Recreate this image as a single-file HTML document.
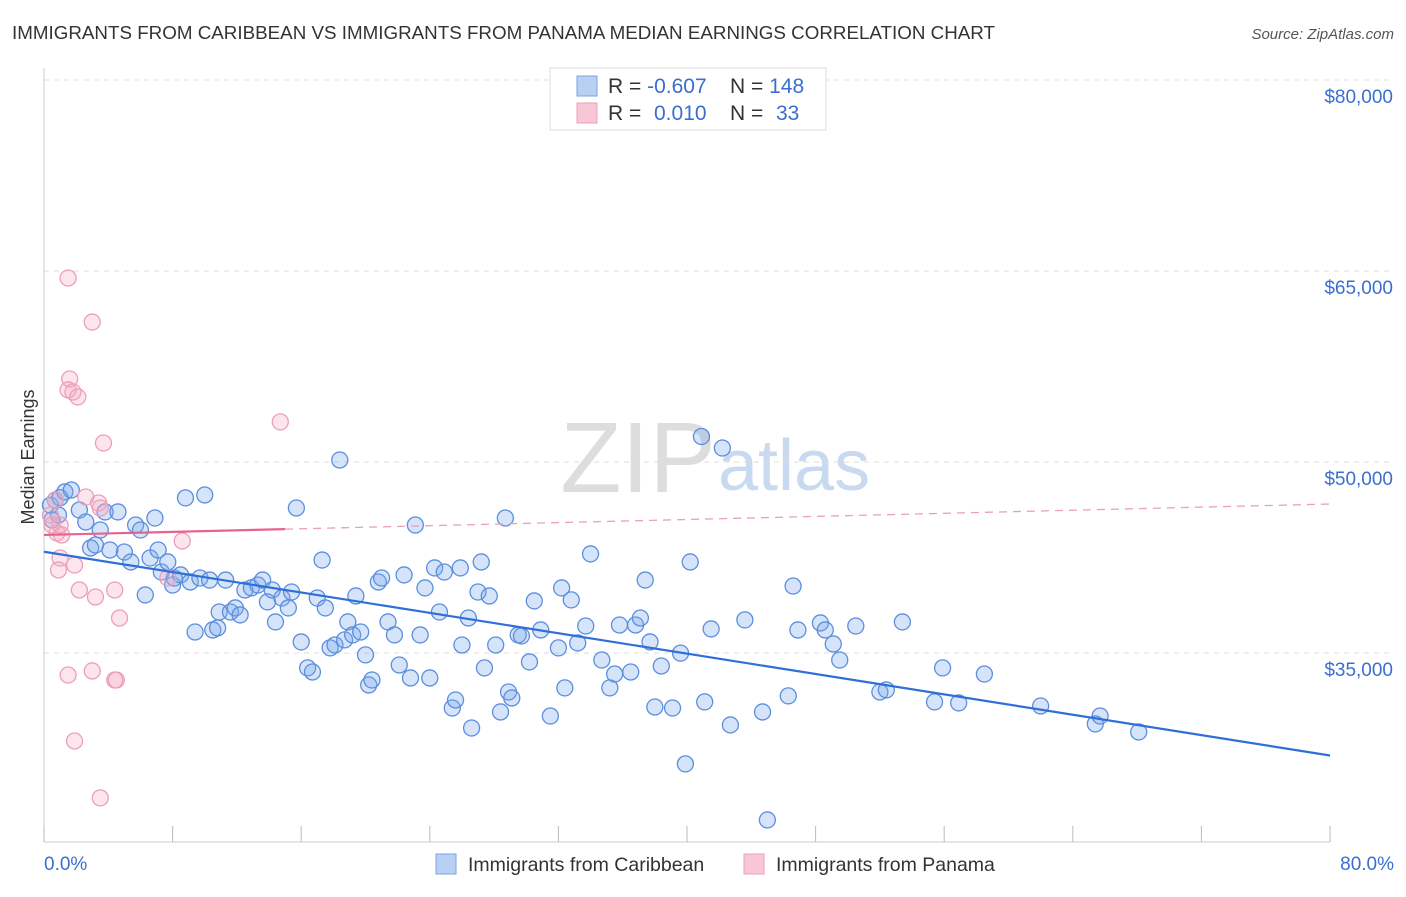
<!DOCTYPE html>
<html><head><meta charset="utf-8"><style>
body{margin:0;background:#fff;font-family:"Liberation Sans",sans-serif;}
svg text{font-family:"Liberation Sans",sans-serif;}
</style></head><body>
<svg id="chart" width="1406" height="892" xmlns="http://www.w3.org/2000/svg">
<text x="12" y="39" font-size="18" fill="#333" textLength="983" lengthAdjust="spacingAndGlyphs">IMMIGRANTS FROM CARIBBEAN VS IMMIGRANTS FROM PANAMA MEDIAN EARNINGS CORRELATION CHART</text>
<text x="1394" y="39" font-size="15" fill="#555" font-style="italic" text-anchor="end">Source: ZipAtlas.com</text>
<text x="716" y="492" font-size="100" fill="#ddd" text-anchor="end" font-family="Liberation Serif">ZIP</text>
<text x="718" y="490" font-size="72" fill="#c9daf0">atlas</text>
<g id="grid"></g>
<g id="axes"></g>
<g id="marks"></g>
<text x="34" y="457" font-size="18" fill="#333" text-anchor="middle" transform="rotate(-90 34 457)">Median Earnings</text>
<g>
<rect x="550" y="68" width="276" height="62" fill="#fff" stroke="#ddd"/>
<rect x="577" y="76" width="20" height="20" fill="#b8d0f4" stroke="#7aa3e0"/>
<rect x="577" y="103" width="20" height="20" fill="#f8c6d6" stroke="#eaa0b8"/>
<text x="608" y="93" font-size="21" fill="#333">R = <tspan fill="#3a6fd0">-0.607</tspan></text>
<text x="730" y="93" font-size="21" fill="#333">N = <tspan fill="#3a6fd0">148</tspan></text>
<text x="608" y="120" font-size="21" fill="#333">R = <tspan fill="#3a6fd0" x="654">0.010</tspan></text>
<text x="730" y="120" font-size="21" fill="#333">N = <tspan fill="#3a6fd0" x="776">33</tspan></text>
</g>
<g>
<rect x="436" y="854" width="20" height="20" fill="#b8d0f4" stroke="#7aa3e0"/>
<text x="468" y="871" font-size="19.5" fill="#333">Immigrants from Caribbean</text>
<rect x="744" y="854" width="20" height="20" fill="#f8c6d6" stroke="#eaa0b8"/>
<text x="776" y="871" font-size="19.5" fill="#333">Immigrants from Panama</text>
</g>
</svg>
<script>
const yTicks=[35000,50000,65000,80000];
const yTickLabels=["$35,000","$50,000","$65,000","$80,000"];
const xTickLabels=["0.0%","80.0%"];
const blueX=[0.4,0.7,1.0,1.3,1.7,0.9,0.5,2.2,2.6,2.9,3.2,3.5,3.8,4.1,4.6,5.0,5.4,5.7,6.0,6.3,6.6,6.9,7.1,7.3,7.7,8.0,8.1,8.5,8.8,9.1,9.4,9.7,10.0,10.3,10.5,10.8,10.9,11.3,11.6,11.9,12.2,12.5,12.9,13.3,13.6,13.9,14.2,14.4,14.8,15.2,15.4,15.7,16.0,16.4,16.7,17.0,17.3,17.5,17.8,18.1,18.4,18.7,18.9,19.2,19.4,19.7,20.0,20.2,20.4,20.8,21.0,21.4,21.8,22.1,22.4,22.8,23.1,23.4,23.7,24.0,24.3,24.6,24.9,25.4,25.6,25.9,26.0,26.4,26.6,27.0,27.2,27.4,27.7,28.1,28.4,28.7,28.9,29.1,29.5,29.7,30.2,30.5,30.9,31.5,32.0,32.2,32.4,32.8,33.2,33.7,34.0,34.7,35.2,35.5,35.8,36.5,36.8,37.1,37.4,37.7,38.0,38.4,39.1,39.6,39.9,40.2,40.9,41.1,41.5,42.2,42.7,43.6,44.7,45.0,46.3,46.6,46.9,48.3,48.6,49.1,49.5,50.5,52.0,52.4,53.4,55.4,55.9,56.9,58.5,62.0,65.4,65.7,68.1];
const blueY=[46600,47000,47200,47650,47800,45840,45450,46230,45290,43250,43480,44660,46080,43090,46080,42930,42150,45050,44660,39560,42460,45600,43090,41360,42150,40340,40890,41130,47180,40580,36650,40890,47410,40730,36810,36970,38220,40730,38220,38540,37990,39950,40110,40340,40730,39010,39950,37440,39320,38540,39790,46390,35870,33830,33510,39320,42300,38540,35400,35630,50160,36030,37440,36420,39480,36650,34850,32490,32880,40580,40890,37440,36420,34060,41130,33040,45050,36420,40110,33040,41680,38220,41360,30680,31310,41680,35630,37750,29110,39790,42150,33830,39480,35630,30370,45600,31940,31470,36420,36340,34300,39090,36810,30050,35400,40110,32260,39170,35790,37120,42780,34450,32260,33350,37200,33510,37200,37750,40730,35870,30760,33980,30680,34990,26290,42150,52000,31160,36890,51100,29350,37600,30370,21890,31630,40260,36810,37360,36810,35710,34450,37120,31940,32100,37440,31160,33830,31080,33350,30840,29430,30050,28800];
const pinkX=[1.5,3.0,1.6,1.5,1.8,2.1,3.7,14.7,0.7,2.6,3.4,0.4,0.8,0.5,1.1,1.0,1.0,1.9,0.9,2.2,3.2,4.4,4.7,8.6,7.7,1.5,3.0,4.4,4.5,1.9,3.5,3.5];
const pinkY=[64450,60990,56520,55660,55500,55110,51490,53150,47020,47250,46780,45840,44430,45050,44270,45050,42460,41910,41520,39950,39400,39950,37750,43800,40890,33270,33590,32880,32880,28090,23620,46390];
const blueTrend=[42950,26950];
const pinkTrend=[44270,46700];
const pinkSolidEnd=15;

const X0=44,X1=1330,Y80=80;
const xs=v=>X0+(X1-X0)*v/80;
const ys=v=>Y80+(80000-v)*191/15000;
const NS="http://www.w3.org/2000/svg";
function mk(tag,attrs,parent){const e=document.createElementNS(NS,tag);for(const k in attrs)e.setAttribute(k,attrs[k]);parent.appendChild(e);return e;}
const grid=document.getElementById('grid'),axes=document.getElementById('axes'),marks=document.getElementById('marks');
yTicks.forEach((t,i)=>{
  const l=mk('line',{x1:X0,x2:1394,y1:ys(t),y2:ys(t),stroke:'#ddd','stroke-dasharray':'5,5'},grid);
  
  
  const tx=mk('text',{x:1393,y:ys(t)+23,'font-size':19,fill:'#3a6fd0','text-anchor':'end'},axes);
  tx.textContent=yTickLabels[i];
  
  
});
const xl=mk('line',{x1:X0,x2:X1,y1:842,y2:842,stroke:'#ccc'},axes);


const yl=mk('line',{x1:X0,x2:X0,y1:68,y2:842,stroke:'#ccc'},axes);


for(let p=0;p<=80;p+=8){
  const t=mk('line',{x1:xs(p),x2:xs(p),y1:826,y2:842,stroke:'#bbb'},axes);
  
  
}
[[0,'start',44],[80,'end',1394]].forEach((a,i)=>{
  const tx=mk('text',{x:a[2],y:870,'font-size':19,fill:'#3a6fd0','text-anchor':a[1]},axes);
  tx.textContent=xTickLabels[i];
  
  
});
blueX.forEach((x,i)=>{
  const c=mk('circle',{cx:xs(x),cy:ys(blueY[i]),r:8,fill:'rgba(120,165,235,0.3)',stroke:'#5b8ede','stroke-width':1.3},marks);
  
  
});
pinkX.forEach((x,i)=>{
  const c=mk('circle',{cx:xs(x),cy:ys(pinkY[i]),r:8,fill:'rgba(245,170,195,0.3)',stroke:'#eaa0b8','stroke-width':1.3},marks);
  
  
});
const bt=mk('line',{x1:xs(0),y1:ys(blueTrend[0]),x2:xs(80),y2:ys(blueTrend[1]),stroke:'#2e6fd8','stroke-width':2.2},marks);


const py=x=>pinkTrend[0]+(pinkTrend[1]-pinkTrend[0])*x/80;
const pd=mk('line',{x1:xs(pinkSolidEnd),y1:ys(py(pinkSolidEnd)),x2:xs(80),y2:ys(pinkTrend[1]),stroke:'#eaa0b8','stroke-width':1.3,'stroke-dasharray':'8,6'},marks);


const ps=mk('line',{x1:xs(0),y1:ys(pinkTrend[0]),x2:xs(pinkSolidEnd),y2:ys(py(pinkSolidEnd)),stroke:'#e8628e','stroke-width':2.2},marks);


</script>
</body></html>
